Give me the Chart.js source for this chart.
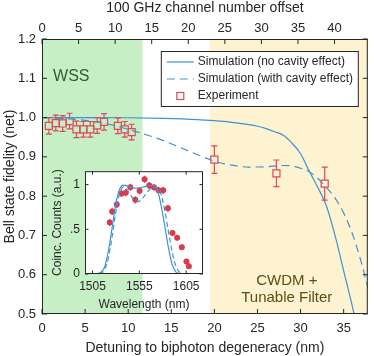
<!DOCTYPE html>
<html>
<head>
<meta charset="utf-8">
<script src="https://cdn.jsdelivr.net/npm/chart.js@4.4.1/dist/chart.umd.min.js"></script>
<style>
body { margin: 0; background: #fff; }
#wrap { position: relative; width: 374px; height: 356px; }
#main { position: absolute; left: 0; top: 0; }
#inset { position: absolute; left: 46px; top: 159px; }
</style>
</head>
<body>
<div id="wrap">
  <canvas id="main" width="374" height="356"></canvas>
  <canvas id="inset" width="162" height="153"></canvas>
</div>
<script>
// ---- main plot data ----
const expDetuning = [0.8, 1.6, 2.4, 3.2, 4.0, 4.8, 5.6, 6.4, 7.2, 8.8, 9.6, 10.4, 20.0, 27.2, 32.8];
const expFidelity = [0.979, 0.986, 0.985, 0.991, 0.970, 0.970, 0.970, 0.980, 0.989, 0.979, 0.970, 0.963, 0.893, 0.858, 0.832];
const expError = [0.021, 0.02, 0.02, 0.02, 0.021, 0.02, 0.02, 0.02, 0.021, 0.02, 0.02, 0.02, 0.035, 0.034, 0.042];

const noCavityDetuning = [0, 5, 10, 14, 18, 20, 22, 24, 25, 26, 27, 28, 29, 30, 31, 32, 33, 34, 35, 36, 36.6];
const noCavityFidelity = [1.0, 1.0, 0.9995, 0.998, 0.995, 0.992, 0.988, 0.982, 0.978, 0.972, 0.964, 0.955, 0.935, 0.908, 0.864, 0.822, 0.775, 0.70, 0.61, 0.52, 0.46];

const withCavityDetuning = [0, 2, 4, 6, 8, 10, 12, 14, 16, 18, 20, 22, 24, 26, 28, 29, 30, 31, 32, 33, 34, 35, 36, 37, 38, 38.4];
const withCavityFidelity = [1.0, 0.998, 0.995, 0.99, 0.982, 0.970, 0.957, 0.942, 0.924, 0.906, 0.889, 0.879, 0.874, 0.875, 0.878, 0.877, 0.871, 0.862, 0.845, 0.822, 0.795, 0.757, 0.705, 0.635, 0.55, 0.51];

const wssBand = [0, 11.65];
const cwdmBand = [19.5, 37.8];

// ---- inset data ----
const insetWavelength = [1523.4, 1526.0, 1530.9, 1535.9, 1540.5, 1545.4, 1550.7, 1555.3, 1560.6, 1565.6, 1570.6, 1575.5, 1580.5, 1585.5, 1590.4, 1595.4, 1600.4, 1605.3, 1607.9];
const insetCounts = [0.576, 0.70, 0.777, 0.90, 0.91, 0.97, 0.83, 0.93, 1.06, 0.99, 0.97, 0.936, 0.936, 0.735, 0.46, 0.406, 0.30, 0.14, 0.088];
const insetError = [0.04, 0.04, 0.04, 0.04, 0.04, 0.04, 0.04, 0.04, 0.04, 0.04, 0.04, 0.04, 0.04, 0.04, 0.03, 0.03, 0.03, 0.03, 0.03];

const insetSimWavelength = [1495, 1505, 1510, 1514, 1518, 1522, 1526, 1530, 1534, 1538, 1542, 1546, 1550, 1554, 1558, 1562, 1566, 1570, 1574, 1578, 1582, 1586, 1590, 1594, 1598, 1602, 1610, 1624];
const insetNoCavity = [0, 0, 0.003, 0.02, 0.08, 0.26, 0.52, 0.79, 0.95, 0.995, 0.985, 0.97, 0.96, 0.96, 0.97, 0.98, 0.99, 0.99, 0.95, 0.78, 0.55, 0.3, 0.11, 0.025, 0.003, 0, 0, 0];
const insetWithCavity = [0, 0, 0.002, 0.01, 0.05, 0.18, 0.42, 0.7, 0.9, 0.975, 0.94, 0.88, 0.82, 0.81, 0.84, 0.895, 0.945, 0.975, 0.97, 0.9, 0.72, 0.48, 0.25, 0.09, 0.02, 0.003, 0, 0];
const insetTicks = [1505, 1555, 1605];

const lineBlue = '#3f93d2';
const expRed = '#e0475b';
const axisColor = '#262626';

Chart.defaults.font.family = '"Liberation Sans", Arial, Helvetica, sans-serif';
Chart.defaults.color = axisColor;

function toPoints(xs, ys) {
    return xs.map((v, i) => ({ x: v, y: ys[i] }));
}

// ticks pointing inward, like the original plot
function drawInnerTicks(ctx, scale, area, side, len) {
    scale.ticks.forEach(t => {
        const p = scale.getPixelForValue(t.value);
        ctx.beginPath();
        if (side === 'bottom') { ctx.moveTo(p, area.bottom); ctx.lineTo(p, area.bottom - len); }
        if (side === 'top') { ctx.moveTo(p, area.top); ctx.lineTo(p, area.top + len); }
        if (side === 'left') { ctx.moveTo(area.left, p); ctx.lineTo(area.left + len, p); }
        if (side === 'right') { ctx.moveTo(area.right, p); ctx.lineTo(area.right - len, p); }
        ctx.stroke();
    });
}

const mainDecor = {
    id: 'mainDecor',
    beforeDatasetsDraw(chart) {
        const { ctx, chartArea: a, scales: { x, y } } = chart;
        ctx.save();
        // bandas WSS / CWDM
        const g0 = x.getPixelForValue(wssBand[0]), g1 = x.getPixelForValue(wssBand[1]);
        ctx.fillStyle = '#c6efc6';
        ctx.fillRect(g0, a.top, g1 - g0, a.bottom - a.top);
        const c0 = x.getPixelForValue(cwdmBand[0]), c1 = Math.min(a.right, x.getPixelForValue(cwdmBand[1]));
        ctx.fillStyle = '#fdf3d0';
        ctx.fillRect(c0, a.top, c1 - c0, a.bottom - a.top);

        ctx.textAlign = 'center';
        ctx.textBaseline = 'middle';
        ctx.font = '16px "Liberation Sans", Arial, sans-serif';
        ctx.fillStyle = '#2f5f2f';
        ctx.fillText('WSS', x.getPixelForValue(3.4), y.getPixelForValue(1.105));
        ctx.fillStyle = '#5e4c12';
        ctx.font = '15px "Liberation Sans", Arial, sans-serif';
        ctx.fillText('CWDM +', x.getPixelForValue(28.4), y.getPixelForValue(0.585));
        ctx.fillText('Tunable Filter', x.getPixelForValue(28.4), y.getPixelForValue(0.542));
        ctx.restore();
    },
    afterDatasetsDraw(chart) {
        const { ctx, scales: { x, y } } = chart;
        ctx.save();
        ctx.strokeStyle = expRed;
        ctx.lineWidth = 1.2;
        const half = 3.6;
        expDetuning.forEach((d, i) => {
            const px = x.getPixelForValue(d);
            const py = y.getPixelForValue(expFidelity[i]);
            const top = y.getPixelForValue(expFidelity[i] + expError[i]);
            const bot = y.getPixelForValue(expFidelity[i] - expError[i]);
            ctx.beginPath();
            ctx.moveTo(px, top); ctx.lineTo(px, py - half);
            ctx.moveTo(px, py + half); ctx.lineTo(px, bot);
            ctx.moveTo(px - 3, top); ctx.lineTo(px + 3, top);
            ctx.moveTo(px - 3, bot); ctx.lineTo(px + 3, bot);
            ctx.stroke();
        });
        ctx.restore();
    },
    afterDraw(chart) {
        const { ctx, chartArea: a, scales: { x, x2, y } } = chart;
        ctx.save();
        ctx.strokeStyle = axisColor;
        ctx.lineWidth = 1;
        ctx.strokeRect(a.left + 0.5, a.top + 0.5, a.right - a.left - 1, a.bottom - a.top - 1);
        drawInnerTicks(ctx, x, a, 'bottom', 5);
        drawInnerTicks(ctx, x2, a, 'top', 5);
        drawInnerTicks(ctx, y, a, 'left', 5);
        drawInnerTicks(ctx, y, a, 'right', 5);

        // legenda
        const lx = a.right - 207, ly = a.top + 12, lw = 197, lh = 55;
        ctx.fillStyle = '#fff';
        ctx.fillRect(lx, ly, lw, lh);
        ctx.strokeStyle = axisColor;
        ctx.lineWidth = 1;
        ctx.strokeRect(lx + 0.5, ly + 0.5, lw, lh);
        const rows = [ly + 11, ly + 28, ly + 45];
        const labels = ['Simulation (no cavity effect)', 'Simulation (with cavity effect)', 'Experiment'];
        ctx.strokeStyle = lineBlue;
        ctx.lineWidth = 1.2;
        ctx.beginPath(); ctx.moveTo(lx + 6, rows[0]); ctx.lineTo(lx + 33, rows[0]); ctx.stroke();
        ctx.setLineDash([8, 5]);
        ctx.beginPath(); ctx.moveTo(lx + 6, rows[1]); ctx.lineTo(lx + 33, rows[1]); ctx.stroke();
        ctx.setLineDash([]);
        ctx.strokeStyle = expRed;
        ctx.strokeRect(lx + 16, rows[2] - 3.5, 7, 7);
        ctx.fillStyle = axisColor;
        ctx.font = '12px "Liberation Sans", Arial, sans-serif';
        ctx.textAlign = 'left';
        ctx.textBaseline = 'middle';
        labels.forEach((t, i) => ctx.fillText(t, lx + 37, rows[i]));
        ctx.restore();
    }
};

new Chart(document.getElementById('main'), {
    type: 'scatter',
    data: {
        datasets: [
            {
                label: 'Simulation (no cavity effect)',
                data: toPoints(noCavityDetuning, noCavityFidelity),
                showLine: true, borderColor: lineBlue, borderWidth: 1.2,
                pointRadius: 0, cubicInterpolationMode: 'monotone'
            },
            {
                label: 'Simulation (with cavity effect)',
                data: toPoints(withCavityDetuning, withCavityFidelity),
                showLine: true, borderColor: lineBlue, borderWidth: 1.2, borderDash: [8, 5],
                pointRadius: 0, cubicInterpolationMode: 'monotone'
            },
            {
                label: 'Experiment',
                data: toPoints(expDetuning, expFidelity),
                showLine: false, pointStyle: 'rect', pointRadius: 5,
                borderColor: expRed, backgroundColor: 'transparent', borderWidth: 1.2
            }
        ]
    },
    options: {
        responsive: false,
        animation: false,
        layout: { padding: { right: 2 } },
        plugins: { legend: { display: false }, tooltip: { enabled: false } },
        scales: {
            x: {
                type: 'linear', position: 'bottom', min: 0, max: 37.8,
                grid: { display: false, drawTicks: false }, border: { display: false },
                ticks: { stepSize: 5, includeBounds: false, padding: 7, font: { size: 13 }, maxRotation: 0 },
                title: { display: true, text: 'Detuning to biphoton degeneracy (nm)', font: { size: 14 }, padding: { top: 0, bottom: -1 } },
                afterFit(s) { s.height = 42; }
            },
            x2: {
                type: 'linear', position: 'top', min: 0, max: 44.55,
                grid: { display: false, drawTicks: false }, border: { display: false },
                ticks: { stepSize: 5, includeBounds: false, padding: 3, font: { size: 13 }, maxRotation: 0 },
                title: { display: true, text: '100 GHz channel number offset', font: { size: 14 }, padding: { top: 0, bottom: 0 } },
                afterFit(s) { s.height = 39; }
            },
            y: {
                type: 'linear', min: 0.5, max: 1.2,
                grid: { display: false, drawTicks: false }, border: { display: false },
                ticks: { stepSize: 0.1, includeBounds: false, padding: 6, font: { size: 13 } },
                title: { display: true, text: 'Bell state fidelity (net)', font: { size: 14 }, padding: { top: 2, bottom: 0 } },
                afterFit(s) { s.width = 42; }
            }
        }
    },
    plugins: [mainDecor]
});

// ---- inset ----
const insetDecor = {
    id: 'insetDecor',
    beforeDraw(chart) {
        const { ctx, chartArea: a } = chart;
        ctx.save();
        ctx.fillStyle = '#fff';
        ctx.fillRect(a.left, a.top, a.right - a.left, a.bottom - a.top);
        ctx.restore();
    },
    beforeDatasetsDraw(chart) {
        const { ctx, scales: { x, y } } = chart;
        ctx.save();
        ctx.strokeStyle = '#d93a4e';
        ctx.lineWidth = 1.2;
        insetWavelength.forEach((w, i) => {
            const px = x.getPixelForValue(w);
            const top = y.getPixelForValue(insetCounts[i] + insetError[i]);
            const bot = y.getPixelForValue(insetCounts[i] - insetError[i]);
            ctx.beginPath();
            ctx.moveTo(px, top); ctx.lineTo(px, bot);
            ctx.stroke();
        });
        ctx.restore();
    },
    afterDraw(chart) {
        const { ctx, chartArea: a, scales: { x, y } } = chart;
        ctx.save();
        ctx.strokeStyle = axisColor;
        ctx.lineWidth = 1;
        ctx.strokeRect(a.left + 0.5, a.top + 0.5, a.right - a.left - 1, a.bottom - a.top - 1);
        drawInnerTicks(ctx, x, a, 'bottom', 3.5);
        drawInnerTicks(ctx, x, a, 'top', 3.5);
        drawInnerTicks(ctx, y, a, 'left', 3.5);
        drawInnerTicks(ctx, y, a, 'right', 3.5);
        ctx.restore();
    }
};

new Chart(document.getElementById('inset'), {
    type: 'scatter',
    data: {
        datasets: [
            {
                data: toPoints(insetSimWavelength, insetNoCavity),
                showLine: true, borderColor: lineBlue, borderWidth: 1.2,
                pointRadius: 0, cubicInterpolationMode: 'monotone'
            },
            {
                data: toPoints(insetSimWavelength, insetWithCavity),
                showLine: true, borderColor: lineBlue, borderWidth: 1.2, borderDash: [5, 3],
                pointRadius: 0, cubicInterpolationMode: 'monotone'
            },
            {
                data: toPoints(insetWavelength, insetCounts),
                showLine: false, pointStyle: 'circle', pointRadius: 3,
                backgroundColor: '#d93a4e', borderColor: '#d93a4e', borderWidth: 0
            }
        ]
    },
    options: {
        responsive: false,
        animation: false,
        layout: { padding: { right: 5, top: 0 } },
        plugins: { legend: { display: false }, tooltip: { enabled: false } },
        scales: {
            x: {
                type: 'linear', min: 1497, max: 1623,
                grid: { display: false, drawTicks: false }, border: { display: false },
                afterBuildTicks(s) { s.ticks = insetTicks.map(v => ({ value: v })); },
                ticks: { padding: 5, font: { size: 12 }, maxRotation: 0, autoSkip: false, callback: v => String(v) },
                title: { display: true, text: 'Wavelength (nm)', font: { size: 12 }, padding: { top: 0, bottom: 0 } },
                afterFit(s) { s.height = 38; }
            },
            y: {
                type: 'linear', min: 0, max: 1.15,
                grid: { display: false, drawTicks: false }, border: { display: false },
                afterBuildTicks(s) { s.ticks = [0, 0.5, 1].map(v => ({ value: v })); },
                ticks: { padding: 5, font: { size: 12 }, callback: v => (v === 0.5 ? '.5' : String(v)) },
                title: { display: true, text: 'Coinc. Counts (a.u.)', font: { size: 12 }, padding: { top: 4, bottom: 0 } },
                afterFit(s) { s.width = 39; }
            }
        }
    },
    plugins: [insetDecor]
});
</script>
</body>
</html>
